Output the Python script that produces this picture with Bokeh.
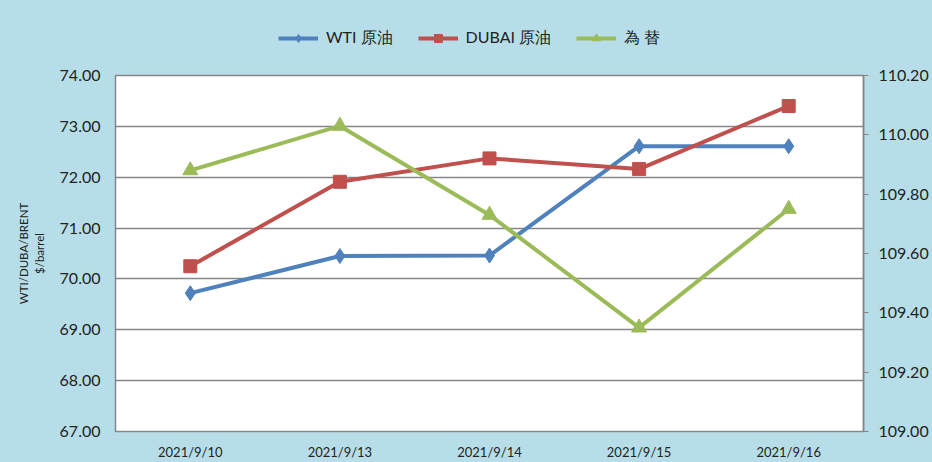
from bokeh.plotting import figure
from bokeh.layouts import column
from bokeh.models import Range1d, LinearAxis, Legend, LegendItem, FixedTicker, NumeralTickFormatter
from bokeh.embed import file_html
from bokeh.resources import INLINE

dates = ["2021/9/10", "2021/9/13", "2021/9/14", "2021/9/15", "2021/9/16"]
wti = [69.72, 70.45, 70.46, 72.61, 72.61]
dubai = [70.25, 71.91, 72.37, 72.16, 73.40]
fx = [109.88, 110.03, 109.73, 109.35, 109.75]
series_names = ["WTI 原油", "DUBAI 原油", "為 替"]

left_ticks = [67, 68, 69, 70, 71, 72, 73, 74]
right_ticks = [109.0, 109.2, 109.4, 109.6, 109.8, 110.0, 110.2]

BG = "#B7DEE8"
GRID = "#868686"
FONT = "Lato"
c_wti = "#4F81BD"
c_dub = "#C0504D"
c_fx = "#9BBB59"

# ---- main chart ----
p = figure(width=932, height=397, x_range=dates, y_range=Range1d(67, 74),
           output_backend="svg", toolbar_location=None,
           min_border_left=115, min_border_right=69, min_border_top=10, min_border_bottom=29)
p.background_fill_color = "white"
p.border_fill_color = BG
p.outline_line_color = GRID
p.outline_line_width = 1.5
p.styles = {"background-color": BG}

p.extra_y_ranges = {"fx": Range1d(109.0, 110.2)}

p.xgrid.grid_line_color = None
p.ygrid.grid_line_color = GRID
p.ygrid.grid_line_width = 1.5
p.ygrid.ticker = FixedTicker(ticks=left_ticks)

ya = p.yaxis[0]
ya.ticker = FixedTicker(ticks=left_ticks)
ya.formatter = NumeralTickFormatter(format="0.00")
ya.axis_line_color = None
ya.major_tick_line_color = None
ya.major_tick_out = 0
ya.major_tick_in = 0
ya.minor_tick_line_color = None
ya.minor_tick_out = 0
ya.major_label_text_font = FONT
ya.major_label_text_font_size = "16px"
ya.major_label_text_color = "#222222"
ya.major_label_standoff = 15
ya.axis_label = "WTI/DUBA/BRENT\n$/barrel"
ya.axis_label_text_font = FONT
ya.axis_label_text_font_size = "11.5px"
ya.axis_label_text_font_style = "normal"
ya.axis_label_text_color = "#222222"
ya.axis_label_standoff = 11

ra = LinearAxis(y_range_name="fx", ticker=FixedTicker(ticks=right_ticks),
                formatter=NumeralTickFormatter(format="0.00"))
ra.axis_line_color = GRID
ra.axis_line_width = 1.5
ra.major_tick_line_color = GRID
ra.major_tick_out = 5
ra.major_tick_in = 0
ra.minor_tick_line_color = None
ra.major_label_text_font = FONT
ra.major_label_text_font_size = "16px"
ra.major_label_text_color = "#222222"
ra.major_label_standoff = 10
p.add_layout(ra, "right")

xa = p.xaxis[0]
xa.axis_line_color = None
xa.major_tick_line_color = None
xa.major_tick_out = 0
xa.major_tick_in = 0
xa.minor_tick_line_color = None
xa.minor_tick_out = 0
xa.major_label_text_font = FONT
xa.major_label_text_font_size = "13px"
xa.major_label_text_color = "#222222"
xa.major_label_standoff = 12

p.line(dates, wti, line_color=c_wti, line_width=4)
p.scatter(dates, wti, marker="diamond", size=15, fill_color=c_wti, line_color=c_wti)
p.line(dates, dubai, line_color=c_dub, line_width=4)
p.scatter(dates, dubai, marker="square", size=13, fill_color=c_dub, line_color=c_dub)
p.line(dates, fx, line_color=c_fx, line_width=4, y_range_name="fx")
p.scatter(dates, fx, marker="triangle", size=15, fill_color=c_fx, line_color=c_fx, y_range_name="fx")

# ---- legend strip on top ----
top = figure(width=932, height=65, x_range=Range1d(0, 1), y_range=Range1d(0, 1),
             output_backend="svg", toolbar_location=None,
             min_border=0, min_border_left=0, min_border_right=0, min_border_top=0, min_border_bottom=0)
top.axis.visible = False
top.grid.visible = False
top.outline_line_color = None
top.background_fill_color = BG
top.border_fill_color = BG
top.styles = {"background-color": BG}

# legend-key renderers (kept outside the visible range; only their keys are shown)
items = []
for name, col, mk, sz in zip(series_names, [c_wti, c_dub, c_fx], ["diamond", "square", "triangle"], [13, 12, 13]):
    lr = top.line([-5, -4], [-5, -4], line_color=col, line_width=4)
    sr = top.scatter([-5], [-5], marker=mk, size=sz, fill_color=col, line_color=col)
    items.append(LegendItem(label=name, renderers=[lr, sr]))

legend = Legend(items=items, orientation="horizontal", location=(163, 16))
legend.background_fill_alpha = 0
legend.border_line_color = None
legend.label_text_font = FONT
legend.label_text_font_size = "16px"
legend.label_text_color = "#222222"
legend.glyph_width = 40
legend.glyph_height = 20
legend.spacing = 25
legend.label_standoff = 8
legend.padding = 5
legend.margin = 0
top.add_layout(legend, "center")

layout = column(top, p, spacing=0)
layout.styles = {"background-color": BG}
open("out.html", "w").write(file_html(layout, INLINE))
